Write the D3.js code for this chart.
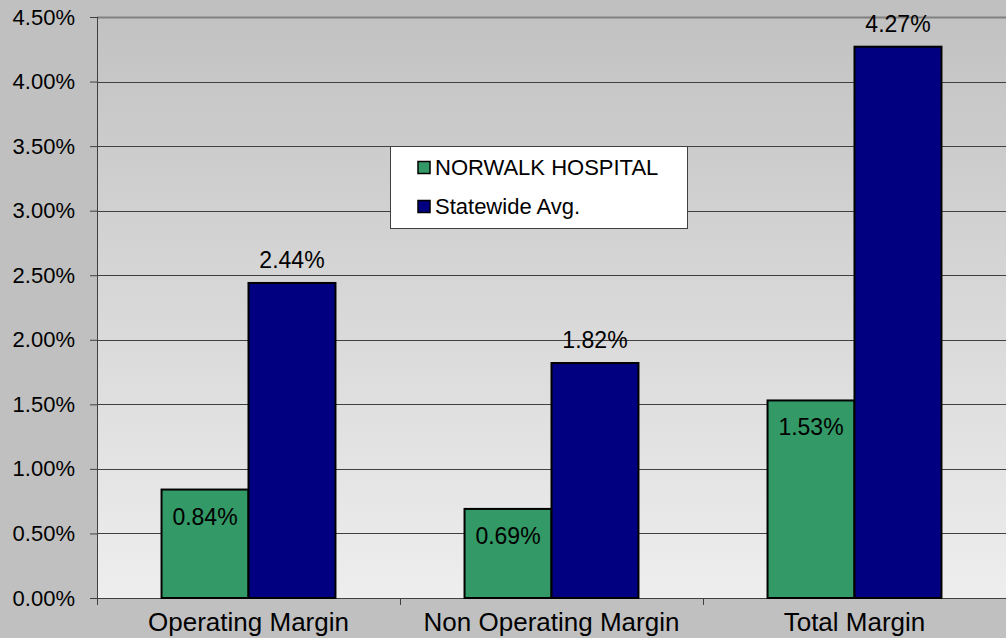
<!DOCTYPE html>
<html>
<head>
<meta charset="utf-8">
<script src="https://cdn.jsdelivr.net/npm/d3@7"></script>
<style>
  html, body { margin: 0; padding: 0; background: #c0c0c0; }
  svg { display: block; font-family: "Liberation Sans", Arial, sans-serif; }
</style>
</head>
<body>
<div id="chart"></div>
<script>
const categories = ['Operating Margin', 'Non Operating Margin', 'Total Margin'];
const seriesNames = ['NORWALK HOSPITAL', 'Statewide Avg.'];
const hospitalValues = [0.84, 0.69, 1.53];
const statewideValues = [2.44, 1.82, 4.27];
const yTicks = [0, 0.5, 1, 1.5, 2, 2.5, 3, 3.5, 4, 4.5];
const colors = ['#339966', '#000080'];

const W = 1006, H = 638;
const MARGIN = { TOP: 17, BOTTOM: 40, LEFT: 97, RIGHT: 0 };
const WIDTH = W - MARGIN.LEFT - MARGIN.RIGHT;
const HEIGHT = H - MARGIN.TOP - MARGIN.BOTTOM;

const svg = d3.select('#chart').append('svg')
  .attr('width', W).attr('height', H);

const defs = svg.append('defs');
const grad = defs.append('linearGradient').attr('id', 'bg')
  .attr('x1', 0).attr('y1', 0).attr('x2', 0).attr('y2', 1);
grad.append('stop').attr('offset', '0%').attr('stop-color', '#c2c2c2');
grad.append('stop').attr('offset', '100%').attr('stop-color', '#eeeeee');

const g = svg.append('g').attr('transform', `translate(${MARGIN.LEFT}, ${MARGIN.TOP})`);

const x0 = d3.scaleBand().domain(categories).range([0, WIDTH]).paddingInner(0).paddingOuter(0);
const x1 = d3.scaleBand().domain(seriesNames).range([0, x0.bandwidth() * 0.574]);
const groupOffset = (x0.bandwidth() - x1.range()[1]) / 2;
const y = d3.scaleLinear().domain([0, 4.5]).range([HEIGHT, 0]);

// plot area
g.append('rect').attr('width', WIDTH).attr('height', HEIGHT).attr('fill', 'url(#bg)');

// gridlines
g.selectAll('.grid').data(yTicks.slice(1)).join('line')
  .attr('x1', 0).attr('x2', WIDTH)
  .attr('y1', d => Math.round(y(d)) + 0.5).attr('y2', d => Math.round(y(d)) + 0.5)
  .attr('stroke', d => d === 4.5 ? '#808080' : '#404040')
  .attr('stroke-width', d => d === 4.5 ? 2 : 1);

// y axis
const yAxis = g.append('g').call(d3.axisLeft(y).tickValues(yTicks).tickSize(7).tickPadding(15)
  .tickFormat(d => d.toFixed(2) + '%'));
yAxis.select('.domain').attr('stroke', '#404040').attr('d', `M0.5,0V${HEIGHT}`);
yAxis.selectAll('.tick line').attr('stroke', '#404040');
yAxis.selectAll('text').attr('font-size', 22).attr('fill', '#000')
  .attr('font-family', '"Liberation Sans", Arial, sans-serif');

// x axis
const xAxis = g.append('g').attr('transform', `translate(0, ${HEIGHT})`)
  .call(d3.axisBottom(x0).tickSize(0).tickPadding(15));
xAxis.select('.domain').attr('stroke', '#404040');
xAxis.selectAll('text').attr('font-size', 26).attr('fill', '#000')
  .attr('font-family', '"Liberation Sans", Arial, sans-serif');
xAxis.selectAll('.sep').data([0, 1, 2, 3]).join('line')
  .attr('x1', i => Math.round(i * x0.bandwidth()) + 0.5)
  .attr('x2', i => Math.round(i * x0.bandwidth()) + 0.5)
  .attr('y1', 0).attr('y2', 7).attr('stroke', '#404040');

// bars
const groups = g.selectAll('.grp').data(categories).join('g')
  .attr('transform', d => `translate(${x0(d) + groupOffset}, 0)`);

const barData = (c, i) => [
  { s: seriesNames[0], v: hospitalValues[i], k: 0 },
  { s: seriesNames[1], v: statewideValues[i], k: 1 }
];

groups.selectAll('rect').data(barData).join('rect')
  .attr('x', d => x1(d.s))
  .attr('y', d => y(d.v))
  .attr('width', x1.bandwidth())
  .attr('height', d => HEIGHT - y(d.v))
  .attr('fill', d => colors[d.k])
  .attr('stroke', '#000').attr('stroke-width', 2);

groups.selectAll('text').data(barData).join('text')
  .attr('x', d => x1(d.s) + x1.bandwidth() / 2)
  .attr('y', d => d.k === 0 ? y(d.v) + 35 : y(d.v) - 15)
  .attr('text-anchor', 'middle')
  .attr('font-size', 23)
  .attr('fill', '#000')
  .text(d => d.v.toFixed(2) + '%');

// legend
const legend = svg.append('g').attr('transform', 'translate(390, 146)');
legend.append('rect').attr('x', 0.5).attr('y', 0.5).attr('width', 297).attr('height', 82)
  .attr('fill', '#fff').attr('stroke', '#404040').attr('stroke-width', 1);
const items = legend.selectAll('.item').data(seriesNames).join('g')
  .attr('transform', (d, i) => `translate(27, ${21.5 + i * 39})`);
items.append('rect').attr('x', 1).attr('y', -6).attr('width', 12).attr('height', 12)
  .attr('fill', (d, i) => colors[i]).attr('stroke', '#000').attr('stroke-width', 1.5);
items.append('text').attr('x', 18).attr('y', 0).attr('dy', '0.35em')
  .attr('font-size', 22).attr('fill', '#000').text(d => d);
</script>
</body>
</html>
